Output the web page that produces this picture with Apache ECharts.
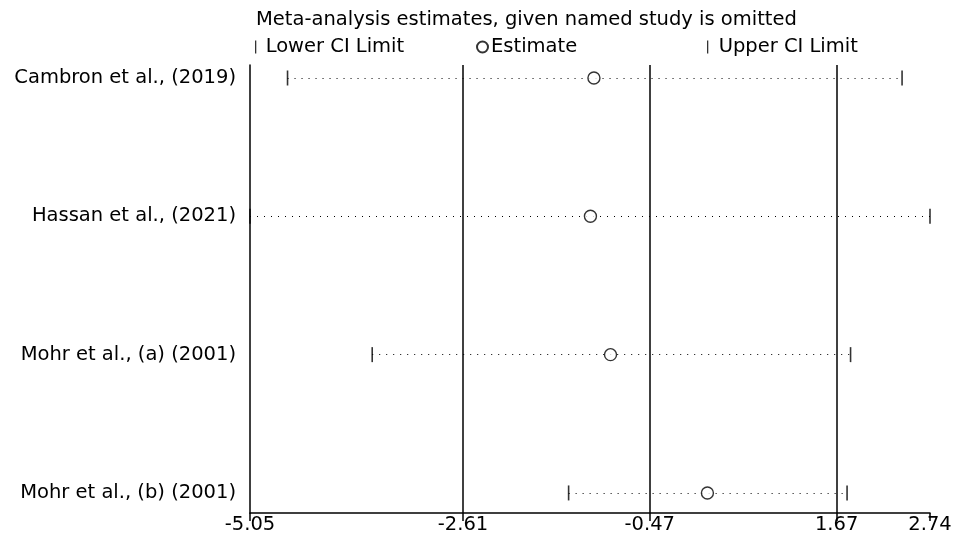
<!DOCTYPE html>
<html>
<head>
<meta charset="utf-8">
<script src="https://cdn.jsdelivr.net/npm/echarts@6/dist/echarts.min.js"></script>
<style>
html,body{margin:0;padding:0;background:#fff;}
#chart{width:962px;height:537px;}
</style>
</head>
<body>
<div id="chart"></div>
<script>
// ---- data ----
var studies = ['Cambron et al., (2019)', 'Hassan et al., (2021)', 'Mohr et al., (a) (2001)', 'Mohr et al., (b) (2001)'];
var rowPos = [4, 3, 2, 1];
var lowerCI = [-4.62, -5.05, -3.65, -1.40];
var estimate = [-1.11, -1.15, -0.92, 0.19];
var upperCI = [2.42, 2.74, 1.83, 1.79];
var xTicks = [-5.05, -2.61, -0.47, 1.67, 2.74];
var refLines = [-2.61, -0.47, 1.67];
var titleText = 'Meta-analysis estimates, given named study is omitted';

var FONT = '"DejaVu Sans", sans-serif';
var FS = 19.5;
var xMin = xTicks[0], xMax = xTicks[xTicks.length - 1];

var chart = echarts.init(document.getElementById('chart'), null, {renderer: 'canvas'});
var barPath = 'path://M0,0 L1,0 L1,10 L0,10 Z';

var ciLines = studies.map(function (s, i) {
  return {coords: [[lowerCI[i], rowPos[i]], [upperCI[i], rowPos[i]]]};
});

var option = {
  animation: false,
  backgroundColor: '#fff',
  textStyle: {fontFamily: FONT},
  title: {
    text: titleText,
    left: 251, top: 5,
    textStyle: {fontFamily: FONT, fontSize: FS, fontWeight: 'normal', color: '#000'}
  },
  legend: [
    {data: ['Lower CI Limit'], left: 250, top: 32, itemWidth: 2, itemHeight: 13,
     textStyle: {fontFamily: FONT, fontSize: FS, color: '#000', padding: [0,0,0,4]}},
    {data: ['Estimate'], left: 471, top: 32, itemWidth: 11, itemHeight: 11,
     textStyle: {fontFamily: FONT, fontSize: FS, color: '#000', padding: [0,0,0,-2]}},
    {data: ['Upper CI Limit'], left: 702, top: 32, itemWidth: 2, itemHeight: 13,
     textStyle: {fontFamily: FONT, fontSize: FS, color: '#000', padding: [0,0,0,5]}}
  ],
  grid: {left: 250, right: 32, top: 65, bottom: 24, containLabel: false},
  xAxis: {
    type: 'value', min: xMin, max: xMax,
    axisLine: {show: true, onZero: false, lineStyle: {color: '#000', width: 1.5}},
    axisTick: {show: true, length: 8, customValues: xTicks, lineStyle: {color: '#000', width: 1.5}},
    axisLabel: {show: true, customValues: xTicks, color: '#000', fontSize: FS, fontFamily: FONT, margin: 2,
      showMinLabel: true, showMaxLabel: true,
      formatter: function (v) { return v.toFixed(2); }},
    splitLine: {show: false}
  },
  yAxis: {
    type: 'value', min: 0.855, max: 4.094,
    axisLine: {show: true, onZero: false, lineStyle: {color: '#000', width: 1.5}},
    axisTick: {show: false},
    axisLabel: {show: true, customValues: rowPos, color: '#000', fontSize: FS, fontFamily: FONT, margin: 14,
      showMinLabel: true, showMaxLabel: true,
      formatter: function (v) {
        var idx = rowPos.indexOf(Math.round(v));
        return idx >= 0 ? studies[idx] : '';
      }},
    splitLine: {show: false}
  },
  series: [
    {
      type: 'lines', coordinateSystem: 'cartesian2d', z: 2, silent: true,
      lineStyle: {color: '#000', width: 1, type: [1, 6], opacity: 1},
      data: ciLines,
      markLine: {
        silent: true, symbol: 'none', label: {show: false},
        lineStyle: {color: '#000', width: 1.5, type: 'solid'},
        data: refLines.map(function (v) { return {xAxis: v}; })
      }
    },
    {
      name: 'Lower CI Limit', type: 'scatter', z: 3, symbol: barPath, symbolSize: [1.6, 15],
      itemStyle: {color: '#000'},
      data: studies.map(function (s, i) { return [lowerCI[i], rowPos[i]]; })
    },
    {
      name: 'Upper CI Limit', type: 'scatter', z: 3, symbol: barPath, symbolSize: [1.6, 15],
      itemStyle: {color: '#000'},
      data: studies.map(function (s, i) { return [upperCI[i], rowPos[i]]; })
    },
    {
      name: 'Estimate', type: 'scatter', z: 4, symbol: 'circle', symbolSize: 12,
      itemStyle: {color: '#fff', borderColor: '#000', borderWidth: 1.4},
      data: studies.map(function (s, i) { return [estimate[i], rowPos[i]]; })
    }
  ]
};
chart.setOption(option);
</script>
</body>
</html>
